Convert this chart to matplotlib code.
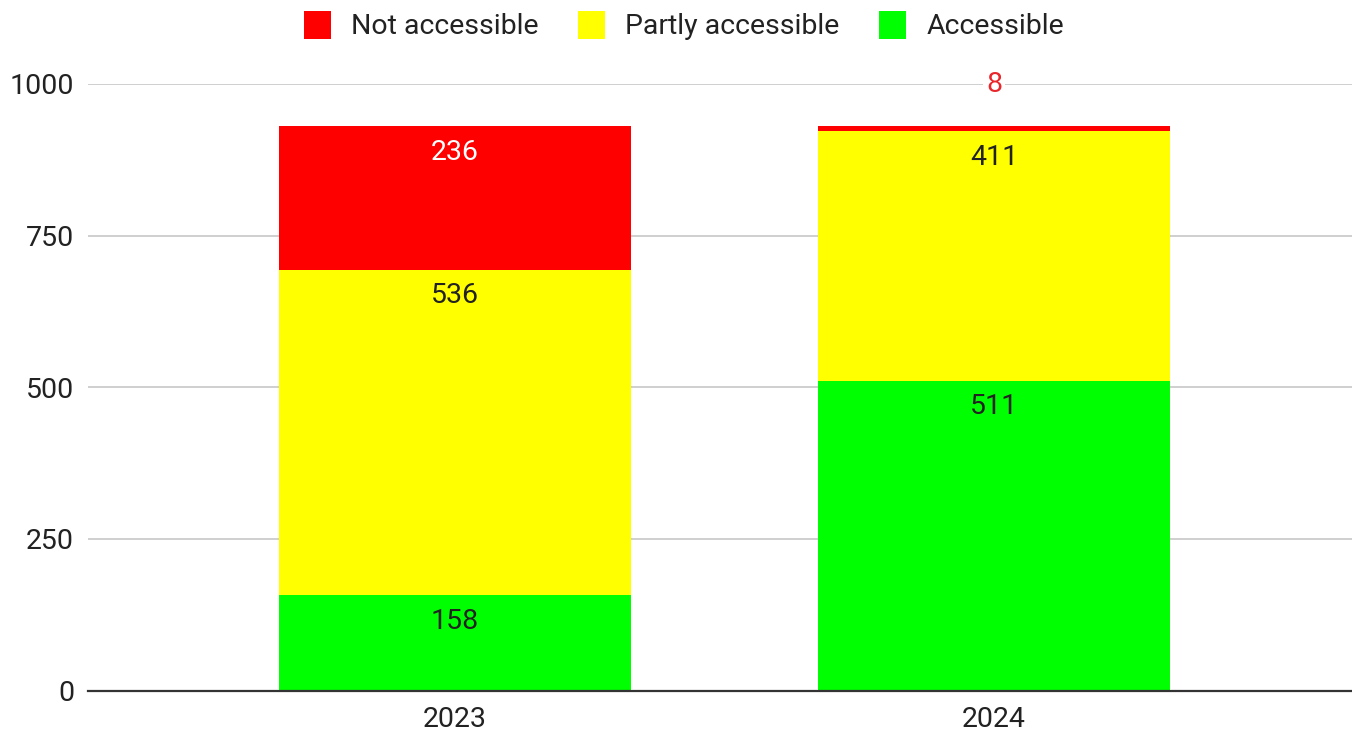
import matplotlib
matplotlib.use("Agg")
import matplotlib.pyplot as plt
from matplotlib.patches import Patch

years = ["2023", "2024"]
accessible = [158, 511]
partly = [536, 411]
not_accessible = [236, 8]
series_names = ["Not accessible", "Partly accessible", "Accessible"]
yticks = [0, 250, 500, 750, 1000]

plt.rcParams['font.family'] = ['Roboto', 'DejaVu Sans']

RED, YEL, GRN = "#ff0000", "#ffff00", "#00ff00"
fig = plt.figure(figsize=(13.52, 7.32), dpi=100)
ax = fig.add_axes([88/1352, (732-690.5)/732, (1352-88)/1352, 606.5/732])

x = list(range(len(years)))
w = 352/539
ax.bar(x, accessible, width=w, color=GRN, zorder=2)
bot2 = accessible
ax.bar(x, partly, width=w, bottom=bot2, color=YEL, zorder=2)
bot3 = [a + p for a, p in zip(accessible, partly)]
ax.bar(x, not_accessible, width=w, bottom=bot3, color=RED, zorder=2)

fs = 20.5
def label_inside(xi, top, val, color):
    ax.annotate(str(val), (xi, top), xytext=(0, -19), textcoords="offset points",
                ha="center", va="center", fontsize=fs, color=color, zorder=3)

for i in x:
    label_inside(i, accessible[i], accessible[i], "#222222")
    label_inside(i, bot3[i], partly[i], "#222222")
    top = bot3[i] + not_accessible[i]
    if not_accessible[i] > 30:
        label_inside(i, top, not_accessible[i], "#ffffff")
    else:
        ax.annotate(str(not_accessible[i]), (i, top), xytext=(0, 30.5), textcoords="offset points",
                    ha="center", va="center", fontsize=fs, color="#e8262b", zorder=3,
                    bbox=dict(boxstyle="square,pad=0.1", fc="white", ec="none"))

ax.set_xlim(-367/539, 1 + 358/539)
ax.set_ylim(0, 1000)
ax.set_yticks(yticks)
ax.set_yticklabels([str(t) for t in yticks])
ax.set_xticks(x)
ax.set_xticklabels(years)
ax.grid(axis="y", color="#cccccc", linewidth=1.3, zorder=0)
ax.set_axisbelow(True)
for s in ["top", "right", "left"]:
    ax.spines[s].set_visible(False)
ax.spines["bottom"].set_color("#333333")
ax.spines["bottom"].set_linewidth(1.6)
ax.spines["bottom"].set_zorder(4)
ax.tick_params(axis="both", length=0, labelsize=fs, colors="#222222")
ax.tick_params(axis="y", pad=10)
ax.tick_params(axis="x", pad=11)

handles = [Patch(facecolor=c, edgecolor="none") for c in (RED, YEL, GRN)]
fig.legend(handles, series_names, loc="center", bbox_to_anchor=(684/1352, 1 - 25.5/732), ncol=3,
           frameon=False, fontsize=fs, handlelength=0.95, handleheight=1.15,
           handletextpad=0.7, columnspacing=1.4, labelcolor="#222222")

fig.savefig("out.png", dpi=100)
